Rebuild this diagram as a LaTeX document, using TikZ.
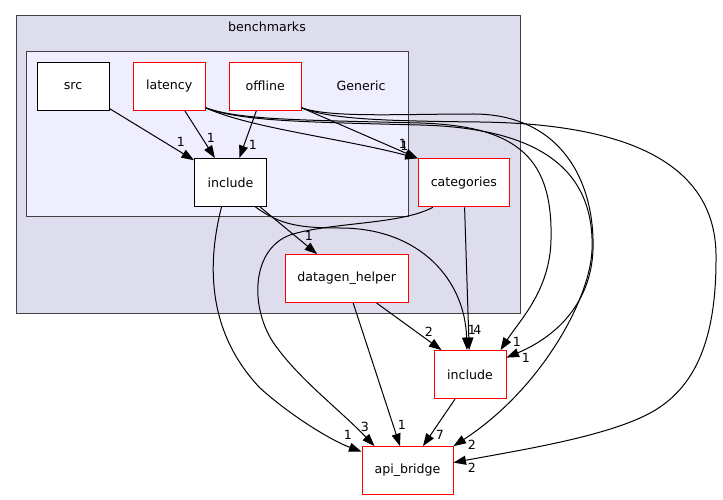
\documentclass[tikz,border=0pt]{standalone}
\usepackage{fontspec}
\setmainfont{DejaVu Sans}
\usetikzlibrary{arrows.meta}
\definecolor{outerfill}{RGB}{221,221,238}
\definecolor{innerfill}{RGB}{238,238,255}
\definecolor{clusterline}{RGB}{64,64,64}
\begin{document}
\begin{tikzpicture}[x=1pt,y=-1pt,
  font=\fontsize{12.6}{15}\selectfont,
  dirbox/.style={draw=black, fill=white, line width=1pt, minimum width=72pt, minimum height=48pt, inner sep=0pt},
  reddir/.style={dirbox, draw=red},
  dep/.style={draw=black, line width=1pt, -{Triangle[length=12.5pt,width=9pt]}},
  lbl/.style={inner sep=0pt},
  cluster/.style={draw=clusterline, line width=1pt}]
\useasboundingbox (0,0) rectangle (723,500);
% clusters
\draw[cluster, fill=outerfill] (16,16) rectangle (520,313);
\node (benchlbl) at (267,26.5) {benchmarks};
\draw[cluster, fill=innerfill] (26,52) rectangle (408,216.5);
\node (genlbl) at (361,85.4) {Generic};
% nodes
\node[dirbox] (src) at (73,86.3) {src};
\node[reddir] (lat) at (169.2,86.3) {latency};
\node[reddir] (off) at (265.2,86.3) {offline};
\node[dirbox] (inc1) at (230.5,182.5) {include};
\node[reddir, minimum width=91pt] (cat) at (463.8,182.8) {categories};
\node[reddir, minimum width=123pt] (dgh) at (346.7,278.6) {datagen\_helper};
\node[reddir] (inc2) at (470,374.6) {include};
\node[reddir, minimum width=91pt] (api) at (407.5,470.6) {api\_bridge};
% edges
\draw[dep] (src) -- (inc1) node[lbl] at (181,142) {1};
\draw[dep] (lat) -- (inc1) node[lbl] at (211,138) {1};
\draw[dep] (off) -- (inc1) node[lbl] at (253,145) {1};
\draw[dep] ([yshift=3pt]lat.south east) .. controls (250,128) and (340,138) .. (cat.north west) node[lbl] at (403,144) {1};
\draw[dep] ([yshift=3pt]off.south east) -- (cat.north west) node[lbl] at (404.5,146) {1};
\draw[dep] (inc1) -- (dgh) node[lbl] at (309,236) {1};
\draw[dep] ([xshift=25pt]inc1.south) .. controls (280,225) and (300,228) .. (340,228) .. controls (420,228) and (465,280) .. ([xshift=-3pt]inc2.north) node[lbl] at (472,330) {1};
\draw[dep] (cat) -- (inc2) node[lbl] at (477.5,330) {4};
\draw[dep] ([xshift=-9pt]inc1.south) .. controls (208,260) and (205,330) .. (260,388) .. controls (290,415) and (330,440) .. ([yshift=-5.5pt]api.north west) node[lbl] at (348,435) {1};
\draw[dep] ([xshift=15pt]cat.south west) .. controls (400,225) and (330,222) .. (290,235) .. controls (250,250) and (250,310) .. (275,345) .. controls (300,380) and (340,410) .. ([xshift=13pt]api.north west) node[lbl] at (365,427) {3};
\draw[dep] ([xshift=6.5pt]dgh.south) -- ([xshift=-7.5pt]api.north) node[lbl] at (402,425) {1};
\draw[dep] ([xshift=30pt]dgh.south) -- ([xshift=8pt]inc2.north west) node[lbl] at (429,332) {2};
\draw[dep] ([xshift=-15pt]inc2.south) -- ([xshift=15.5pt]api.north) node[lbl] at (440,435) {7};
\draw[dep] ([yshift=3pt]lat.south east) .. controls (240,120) and (300,120) .. (420,123) .. controls (520,126) and (553,160) .. (551,240) .. controls (550,290) and (520,320) .. ([xshift=-6pt]inc2.north east) node[lbl] at (517,342) {1};
\draw[dep] ([yshift=3pt]off.south east) .. controls (330,118) and (400,114) .. (473,114) .. controls (560,114) and (595,180) .. (593,250) .. controls (591,300) and (560,335) .. ([yshift=-7.5pt]inc2.north east) node[lbl] at (526,358) {1};
\draw[dep] ([yshift=3pt]lat.south east) .. controls (240,121) and (300,122) .. (420,125) .. controls (540,128) and (595,170) .. (592,250) .. controls (590,300) and (540,390) .. (api.north east) node[lbl] at (472,445) {2};
\draw[dep] ([yshift=3pt]off.south east) .. controls (330,119) and (380,121) .. (480,122) .. controls (640,124) and (718,170) .. (716,260) .. controls (716,330) and (700,380) .. (660,407) .. controls (620,435) and (520,450) .. ([yshift=-16.5pt]api.north east) node[lbl] at (472,468) {2};
\end{tikzpicture}
\end{document}
